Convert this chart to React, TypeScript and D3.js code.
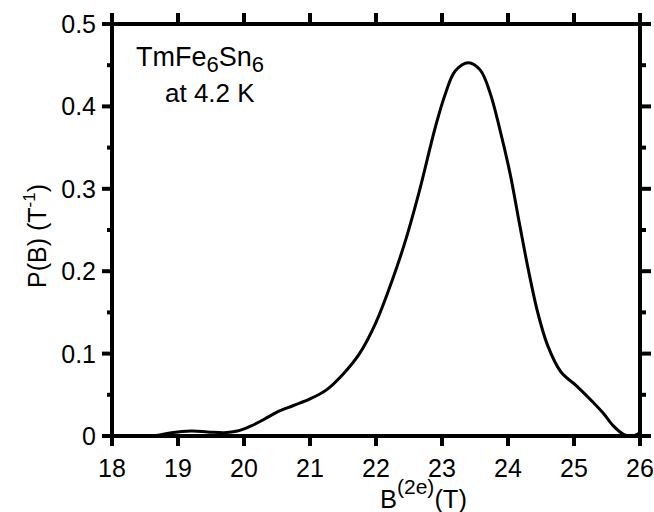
import React from "react";
import * as d3 from "d3";

const fieldT = [18, 18.5, 18.7, 18.9, 19.2, 19.45, 19.7, 19.9, 20.1, 20.3, 20.5, 20.75, 21.0, 21.25, 21.5, 21.75, 22.0, 22.25, 22.45, 22.65, 22.9, 23.05, 23.2, 23.4, 23.58, 23.73, 23.88, 24.03, 24.18, 24.3, 24.45, 24.6, 24.8, 25.05, 25.3, 25.45, 25.6, 25.75, 25.88, 26.0];
const probability = [0, 0, 0.001, 0.004, 0.006, 0.005, 0.004, 0.006, 0.012, 0.02, 0.029, 0.037, 0.045, 0.056, 0.075, 0.1, 0.138, 0.19, 0.238, 0.295, 0.375, 0.415, 0.443, 0.453, 0.444, 0.416, 0.371, 0.319, 0.255, 0.205, 0.15, 0.11, 0.078, 0.06, 0.04, 0.027, 0.012, 0.002, 0.0, 0.004];
const xTicks = [18, 19, 20, 21, 22, 23, 24, 25, 26];
const yTicks = [0, 0.1, 0.2, 0.3, 0.4, 0.5];
const yMinorTicks = [0.05, 0.15, 0.25, 0.35, 0.45];
const yTickLabels = ["0", "0.1", "0.2", "0.3", "0.4", "0.5"];

const FONT = "'Liberation Sans', Arial, Helvetica, sans-serif";

export default function App() {
  const W = 654, H = 512;
  const x = d3.scaleLinear().domain([18, 26]).range([112, 640]);
  const y = d3.scaleLinear().domain([0, 0.5]).range([436, 24]);
  const pts = fieldT.map((t, i) => [t, probability[i]] as [number, number]);
  const line = d3.line<[number, number]>().x(d => x(d[0])).y(d => y(d[1])).curve(d3.curveCatmullRom.alpha(0.5));
  const x0 = x(18), x1 = x(26), y0 = y(0), y1 = y(0.5);
  const axisW = 4;
  return (
    <svg width={W} height={H} style={{ position: "absolute", left: 0, top: 0, background: "#fff" }} fontFamily={FONT}>
      <rect x={0} y={0} width={W} height={H} fill="#fff" />
      <rect x={x0} y={y1} width={x1 - x0} height={y0 - y1} fill="none" stroke="#000" strokeWidth={axisW} />
      {xTicks.map(t => (
        <g key={"xt" + t}>
          <line x1={x(t)} x2={x(t)} y1={y0} y2={y0 + 10} stroke="#000" strokeWidth={axisW} />
          <line x1={x(t)} x2={x(t)} y1={y1} y2={y1 - 11} stroke="#000" strokeWidth={axisW} />
          <text x={x(t)} y={477} textAnchor="middle" fontSize={25}>{t}</text>
        </g>
      ))}
      {yTicks.map((t, i) => (
        <g key={"yt" + t}>
          <line x1={x0} x2={x0 - 10} y1={y(t)} y2={y(t)} stroke="#000" strokeWidth={axisW} />
          <line x1={x1} x2={x1 + 11} y1={y(t)} y2={y(t)} stroke="#000" strokeWidth={axisW} />
          <text x={96} y={y(t) + 9} textAnchor="end" fontSize={25}>{yTickLabels[i]}</text>
        </g>
      ))}
      {yMinorTicks.map(t => (
        <g key={"ym" + t}>
          <line x1={x0} x2={x0 - 5} y1={y(t)} y2={y(t)} stroke="#000" strokeWidth={axisW} />
          <line x1={x1} x2={x1 + 6} y1={y(t)} y2={y(t)} stroke="#000" strokeWidth={axisW} />
        </g>
      ))}
      <path d={line(pts) || ""} fill="none" stroke="#000" strokeWidth={3} strokeLinejoin="round" />
      <text x={136} y={66} fontSize={27}>
        TmFe<tspan fontSize={22} dy={6}>6</tspan><tspan dy={-6}>Sn</tspan><tspan fontSize={22} dy={6}>6</tspan>
      </text>
      <text x={165} y={102} fontSize={26}>at 4.2 K</text>
      <text x={380} y={508} fontSize={25.5}>
        B<tspan fontSize={21} dy={-14}>(2e)</tspan><tspan dy={14}>(T)</tspan>
      </text>
      <text transform="translate(46,236) rotate(-90)" textAnchor="middle" fontSize={25}>
        P(B) (T<tspan fontSize={17} dy={-11}>-1</tspan><tspan dy={11}>)</tspan>
      </text>
    </svg>
  );
}
